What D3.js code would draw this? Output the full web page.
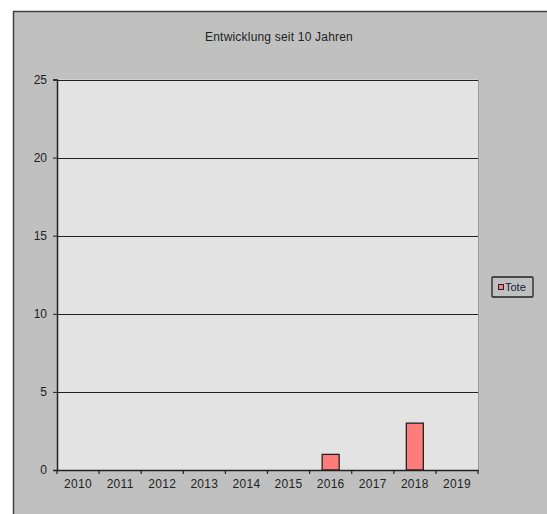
<!DOCTYPE html>
<html><head><meta charset="utf-8">
<script src="https://cdn.jsdelivr.net/npm/d3@7"></script>
<style>body{margin:0;background:#fff;}svg{display:block;font-family:"Liberation Sans",Arial,sans-serif;}</style>
</head><body><svg id="c" width="547" height="514"></svg>
<script>
const title = "Entwicklung seit 10 Jahren";
const years = ["2010","2011","2012","2013","2014","2015","2016","2017","2018","2019"];
const tote = [0,0,0,0,0,0,1,0,3,0];
const yTicks = [0,5,10,15,20,25];
const seriesName = "Tote";

const svg = d3.select("#c");
svg.append("rect").attr("x",13.5).attr("y",11.5).attr("width",540).attr("height",510)
  .attr("fill","#c0c0c0").attr("stroke","#404040").attr("stroke-width",1.5);

const L=57, R=478, T=79.5, B=470;
const x = d3.scaleBand().domain(years).range([L,R]);
const y = d3.scaleLinear().domain([0,25]).range([B,T]);

svg.append("rect").attr("x",L).attr("y",T).attr("width",R-L).attr("height",B-T).attr("fill","#e3e3e3");

svg.append("g").selectAll("line").data(yTicks.filter(d=>d>0)).join("line")
  .attr("x1",L).attr("x2",R).attr("y1",d=>Math.round(y(d))+0.5).attr("y2",d=>Math.round(y(d))+0.5)
  .attr("stroke","#222").attr("stroke-width",1);
svg.append("line").attr("x1",R+0.5).attr("x2",R+0.5).attr("y1",T).attr("y2",B).attr("stroke","#999");

svg.append("g").selectAll("rect").data(years).join("rect")
  .attr("x",(d)=>x(d)+x.bandwidth()/2-8.5)
  .attr("width",17)
  .attr("y",(d,i)=>y(tote[i]))
  .attr("height",(d,i)=>B-y(tote[i]))
  .attr("fill","#ff7c7c").attr("stroke","#222").attr("stroke-width",1.3)
  .attr("display",(d,i)=>tote[i]>0?null:"none");

const fnt = "Liberation Sans, Arial, sans-serif";
const ya = d3.axisLeft(y).tickValues(yTicks).tickSize(4).tickPadding(6).tickFormat(d3.format("d"));
const gy = svg.append("g").attr("transform",`translate(${L},0)`).call(ya);
gy.select(".domain").attr("stroke","#222").attr("stroke-width",1.5);
gy.selectAll(".tick line").attr("stroke","#222");
gy.selectAll("text").attr("font-size",12).attr("fill","#222").attr("font-family",fnt);

const xa = d3.axisBottom(x).tickSize(0).tickPadding(9);
const gx = svg.append("g").attr("transform",`translate(0,${B})`).call(xa);
gx.select(".domain").attr("stroke","#222").attr("stroke-width",1.5);
gx.selectAll("text").attr("font-size",12).attr("fill","#222").attr("font-family",fnt).attr("letter-spacing",0.3);
svg.append("g").selectAll("line").data(d3.range(years.length+1)).join("line")
  .attr("x1",i=>L+i*x.step()).attr("x2",i=>L+i*x.step())
  .attr("y1",B).attr("y2",B+4).attr("stroke","#222").attr("stroke-width",1.2);

svg.append("text").attr("x",279).attr("y",41).attr("text-anchor","middle")
  .attr("font-size",12).attr("letter-spacing",0.2).attr("fill","#222").text(title);

const lg = svg.append("g");
lg.append("rect").attr("x",492).attr("y",277).attr("width",41).attr("height",20)
  .attr("fill","#c0c0c0").attr("stroke","#222").attr("stroke-width",1.3).attr("rx",1);
lg.append("rect").attr("x",498.5).attr("y",284.5).attr("width",5).attr("height",5)
  .attr("fill","#ff7c7c").attr("stroke","#222").attr("stroke-width",1);
lg.append("text").attr("x",505).attr("y",291).attr("font-size",11).attr("fill","#1a1a3a").text(seriesName);
</script></body></html>
